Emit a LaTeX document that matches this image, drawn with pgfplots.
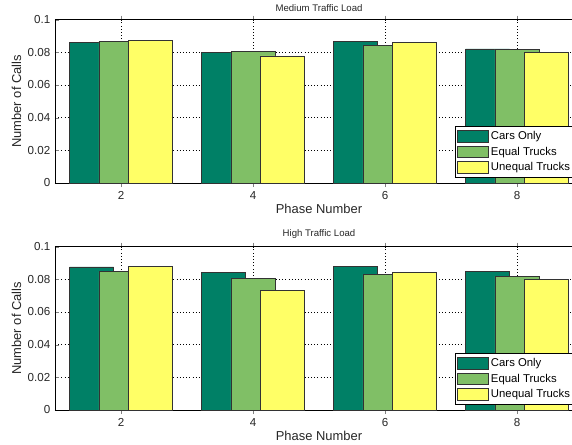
\documentclass[border=0pt]{standalone}
\usepackage{pgfplots}
\pgfplotsset{compat=1.18}
\usepackage{fontspec}
\setmainfont{Liberation Sans}

\definecolor{carsonly}{rgb}{0,0.5,0.4}
\definecolor{equaltr}{rgb}{0.5,0.75,0.4}
\definecolor{unequaltr}{rgb}{1,1,0.4}

% number of calls per phase, medium load
\pgfplotstableread{
phase cars equal unequal
2 0.0862 0.0868 0.0871
4 0.0800 0.0804 0.0778
6 0.0865 0.0843 0.0859
8 0.0821 0.0819 0.0800
}\mediumload
% number of calls per phase, high load
\pgfplotstableread{
phase cars equal unequal
2 0.0876 0.0849 0.0880
4 0.0841 0.0806 0.0733
6 0.0880 0.0831 0.0843
8 0.0847 0.0819 0.0802
}\highload

\pgfplotsset{
  callsaxis/.style={
    scale only axis,
    width=396pt, height=122.5pt,
    anchor=south west,
    xmin=1, xmax=9, ymin=0, ymax=0.1,
    xtick={2,4,6,8},
    ytick={0,0.02,0.04,0.06,0.08,0.1},
    yticklabel style={/pgf/number format/.cd,fixed,precision=2},
    /pgf/number format/assume math mode=true,
    tick label style={font=\fontsize{8.7}{10}\selectfont, black!85},
    label style={font=\fontsize{9.7}{11}\selectfont, black!85},
    title style={font=\fontsize{7.2}{8}\selectfont, black!85, yshift=-3.5pt},
    tick align=inside,
    major tick length=3pt,
    xmajorgrids, ymajorgrids,
    grid style={black, dotted, line width=0.5pt},
    axis line style={black, line width=0.6pt},
    ybar, bar width=0.667,
    xlabel={Phase Number},
    ylabel={Number of Calls},
    xlabel style={yshift=3.5pt},
    ylabel style={yshift=-2pt},
    legend cell align=left,
    legend style={
      at={(0.985,0.031)}, anchor=south east,
      font=\fontsize{8.5}{10}\selectfont,
      draw=black, line width=0.7pt,
      inner sep=1.5pt, row sep=0pt,
      /tikz/every even column/.append style={column sep=1pt},
    },
    legend image code/.code={%
      \draw[#1, line width=0.5pt] (0pt,-4pt) rectangle (23pt,4.5pt);},
  },
  barcars/.style={fill=carsonly, draw=black!80, line width=0.5pt, bar shift=-0.444},
  barequal/.style={fill=equaltr, draw=black!80, line width=0.5pt, bar shift=0},
  barunequal/.style={fill=unequaltr, draw=black!80, line width=0.5pt, bar shift=0.444},
}

\begin{document}
\begin{tikzpicture}
\begin{axis}[callsaxis, at={(41.25pt,195.75pt)}, title={Medium Traffic Load}]
  \addplot[barcars] table[x=phase, y=cars] {\mediumload};
  \addplot[barequal] table[x=phase, y=equal] {\mediumload};
  \addplot[barunequal] table[x=phase, y=unequal] {\mediumload};
  \legend{Cars Only, Equal Trucks, Unequal Trucks}
\end{axis}
\begin{axis}[callsaxis, at={(41.25pt,25.5pt)}, title={High Traffic Load}]
  \addplot[barcars] table[x=phase, y=cars] {\highload};
  \addplot[barequal] table[x=phase, y=equal] {\highload};
  \addplot[barunequal] table[x=phase, y=unequal] {\highload};
  \legend{Cars Only, Equal Trucks, Unequal Trucks}
\end{axis}
\pgfresetboundingbox
\path (0pt,0pt) rectangle (429pt,333pt);
\end{tikzpicture}
\end{document}
